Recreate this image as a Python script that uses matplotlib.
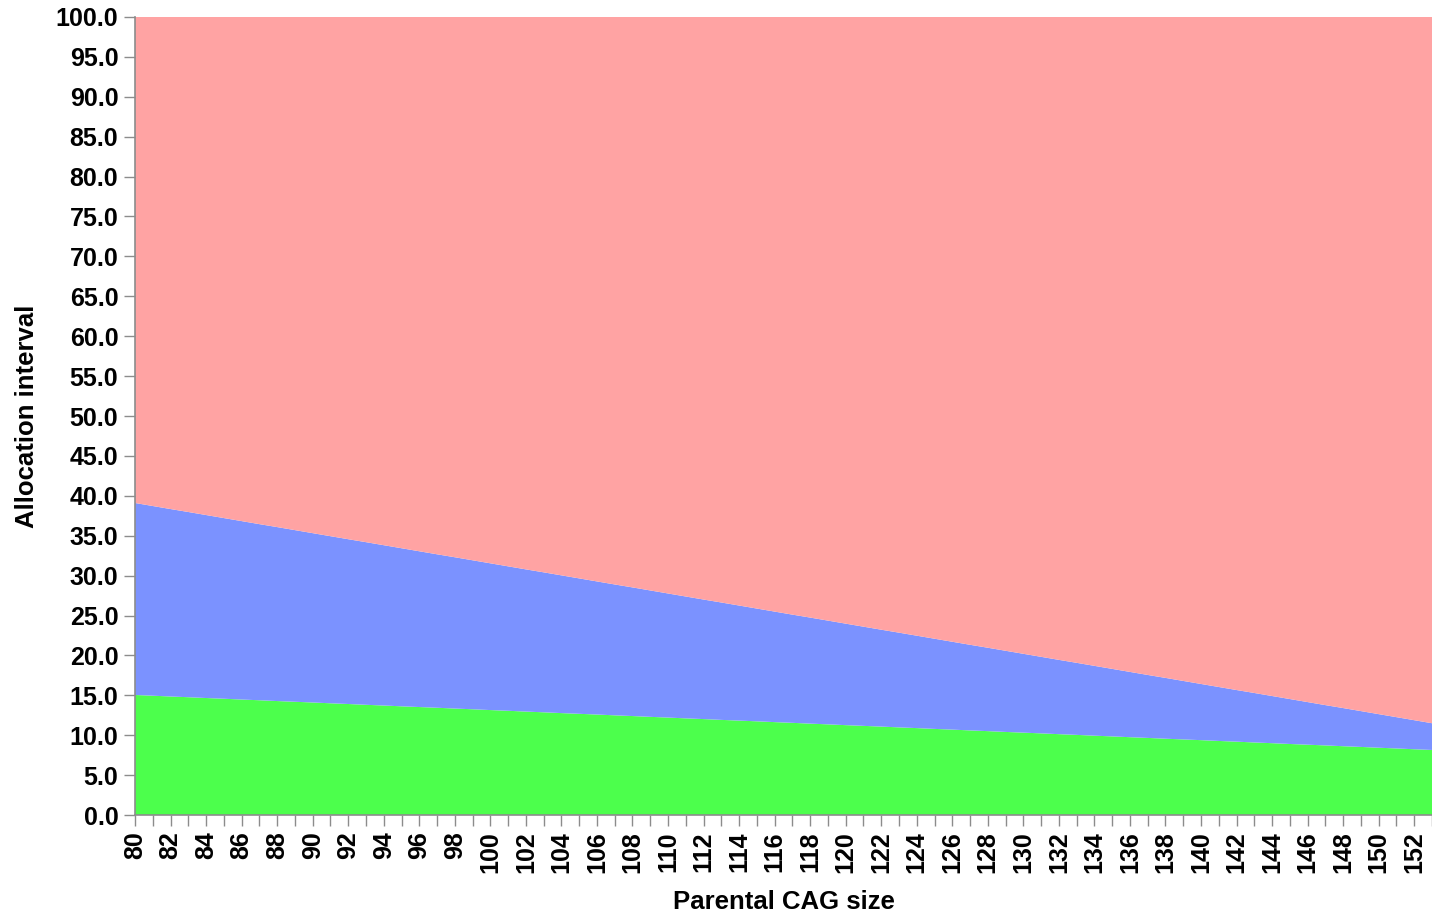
import numpy as np
import matplotlib
matplotlib.use("Agg")
import matplotlib.pyplot as plt

# Parental CAG size categories
cag = list(range(80, 154))

# Lower band (green)
green = [15.04, 14.95, 14.85, 14.76, 14.66, 14.57, 14.47, 14.38, 14.28, 14.19,
         14.10, 14.00, 13.91, 13.81, 13.72, 13.62, 13.53, 13.44, 13.34, 13.25,
         13.15, 13.06, 12.96, 12.87, 12.77, 12.68, 12.59, 12.49, 12.40, 12.30,
         12.21, 12.11, 12.02, 11.92, 11.83, 11.74, 11.64, 11.55, 11.45, 11.36,
         11.26, 11.17, 11.08, 10.98, 10.89, 10.79, 10.70, 10.60, 10.51, 10.41,
         10.32, 10.23, 10.13, 10.04, 9.94, 9.85, 9.75, 9.66, 9.56, 9.47,
         9.38, 9.28, 9.19, 9.09, 9.00, 8.90, 8.81, 8.72, 8.62, 8.53,
         8.43, 8.34, 8.24, 8.15]

# Middle band (blue)
blue = [24.06, 23.77, 23.49, 23.21, 22.93, 22.64, 22.36, 22.07, 21.80, 21.51,
        21.22, 20.94, 20.65, 20.38, 20.09, 19.81, 19.52, 19.23, 18.96, 18.67,
        18.39, 18.10, 17.82, 17.54, 17.26, 16.97, 16.68, 16.40, 16.12, 15.84,
        15.55, 15.27, 14.98, 14.71, 14.42, 14.13, 13.85, 13.56, 13.29, 13.00,
        12.72, 12.43, 12.14, 11.87, 11.58, 11.30, 11.01, 10.73, 10.45, 10.17,
        9.88, 9.59, 9.31, 9.03, 8.75, 8.46, 8.18, 7.89, 7.62, 7.33,
        7.04, 6.76, 6.47, 6.20, 5.91, 5.63, 5.34, 5.05, 4.78, 4.49,
        4.21, 3.92, 3.64, 3.35]

# Upper band (red) fills the rest up to 100
red = [100.0 - g - b for g, b in zip(green, blue)]

plt.rcParams['font.family'] = ['Liberation Sans', 'DejaVu Sans']

fig = plt.figure(figsize=(14.32, 9.13), dpi=100)
ax = fig.add_axes([135 / 1432, 1 - 815 / 913, 1 - 135 / 1432, (815 - 17) / 913])

ax.stackplot(cag, green, blue, red,
             colors=['#4CFF4C', '#7B92FF', '#FFA3A3'], linewidth=0)

ax.set_xlim(80, 153)
ax.set_ylim(0, 100)

ax.set_yticks(np.arange(0, 101, 5))
ax.set_yticklabels([f"{v:.1f}" for v in np.arange(0, 101, 5)],
                   fontsize=18, fontweight='bold')
ax.set_xticks(cag)
ax.set_xticklabels([str(c) if c % 2 == 0 else '' for c in cag],
                   rotation=90, fontsize=18, fontweight='bold')

ax.tick_params(axis='both', direction='out', length=8, width=1, color='#8C8C8C', pad=4)
for side in ['top', 'right']:
    ax.spines[side].set_visible(False)
for side in ['left', 'bottom']:
    ax.spines[side].set_color('#8C8C8C')
    ax.spines[side].set_linewidth(1.2)

ax.set_xlabel('Parental CAG size', fontsize=18.5, fontweight='bold', labelpad=12)
ax.set_ylabel('Allocation interval', fontsize=18.5, fontweight='bold', labelpad=12)

fig.savefig('out.png', dpi=100)
